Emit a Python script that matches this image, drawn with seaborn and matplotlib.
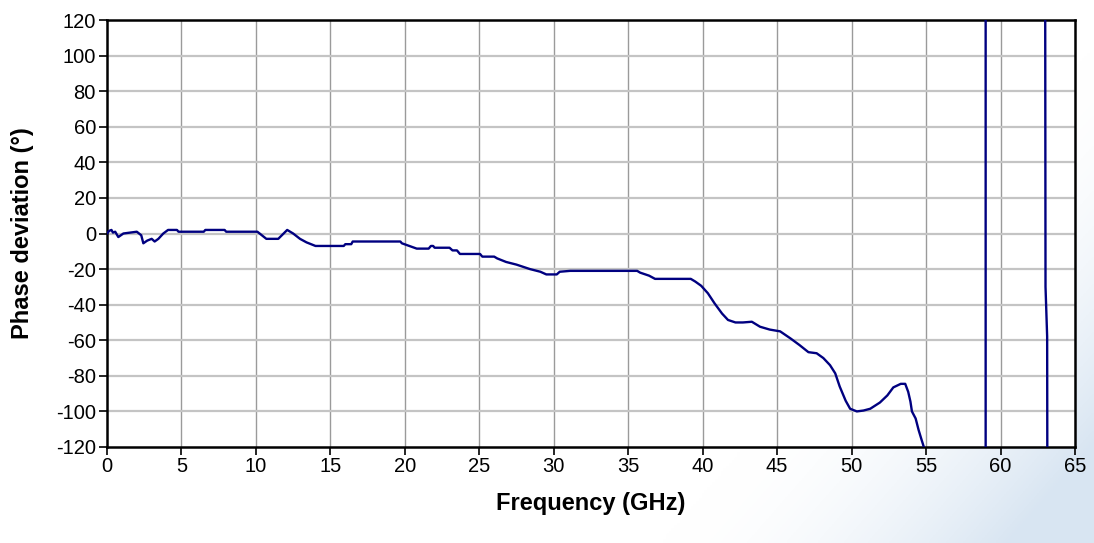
import numpy as np
import pandas as pd
import matplotlib
matplotlib.use("Agg")
import matplotlib.pyplot as plt
import seaborn as sns

# Measured phase deviation versus frequency
freq_ghz = [0, 0.15, 0.3, 0.4, 0.55, 0.76, 1.1, 2.0, 2.3, 2.44, 2.7, 3.0, 3.2, 3.45,
            3.78, 4.1, 4.7, 4.8, 6.5, 6.6, 7.9, 8.0, 10.1, 10.7, 11.5, 12.1, 12.5,
            12.96, 13.4, 14.0, 15.9, 16.0, 16.4, 16.5, 19.7, 19.8, 20.3, 20.8, 21.6,
            21.75, 21.9, 22.0, 23.0, 23.2, 23.5, 23.7, 25.05, 25.2, 26.0, 26.2, 26.8,
            27.5, 28.4, 29.1, 29.5, 30.2, 30.4, 31.1, 35.6, 35.8, 36.4, 36.8, 39.2,
            39.5, 39.9, 40.35, 40.8, 41.3, 41.7, 42.2, 42.7, 43.3, 43.85, 44.5, 45.2,
            45.9, 46.5, 47.1, 47.65, 48.1, 48.55, 48.9, 49.2, 49.6, 49.9, 50.35, 50.8,
            51.25, 51.9, 52.4, 52.8, 53.3, 53.6, 53.8, 53.95, 54.05, 54.3, 54.5, 54.7,
            54.85, 56.5, 59.0, 59.0, 61.0, 63.0, 63.02, 63.13, 63.15]
phase_deg = [0, 1.5, 2, 0.5, 1, -2, 0, 1, -1, -5.5, -4, -3, -4.5, -3,
             0, 2, 2, 1, 1, 2, 2, 1, 1, -3, -3, 2, 0,
             -3, -5, -7, -7, -6, -6, -4.5, -4.5, -5.5, -7, -8.5, -8.5,
             -7, -7, -8, -8, -9.5, -9.5, -11.5, -11.5, -13, -13, -14, -16,
             -17.5, -20, -21.5, -23, -23, -21.5, -21, -21, -22, -23.7, -25.5, -25.5,
             -27, -29.4, -33.6, -39.3, -45, -48.6, -50, -50, -49.6, -52.4, -54, -55,
             -59, -62.7, -66.7, -67.3, -70, -74, -78.6, -86, -94, -98.5, -100, -99.5,
             -98.5, -95, -91, -86.5, -84.5, -84.5, -89, -94.5, -100, -104, -110.5, -116,
             -120, -150, -180, 180, 150, 125, -30, -58, -180]

x_ticks = list(range(0, 66, 5))
y_ticks = list(range(-120, 121, 20))

df = pd.DataFrame({"Frequency (GHz)": freq_ghz, "Phase deviation (°)": phase_deg})

sns.set_theme(style="white")
plt.rcParams["font.family"] = ["Liberation Sans", "DejaVu Sans"]
plt.rcParams["text.color"] = "black"

fig = plt.figure(figsize=(10.94, 5.43), dpi=100)

# soft blue wash in the lower-right corner of the slide background
bg = fig.add_axes([0, 0, 1, 1], zorder=-10)
gx, gy = np.meshgrid(np.linspace(0, 1, 400), np.linspace(0, 1, 200))
d = np.clip(((gx - 0.78) / 0.22) * 0.7 + ((gy - 0.6) / 0.4) * 0.55, 0, 1)
d = d ** 1.8
white = np.array([1.0, 1.0, 1.0])
blue = np.array([0.85, 0.90, 0.95])
img = white[None, None, :] * (1 - d[..., None]) + blue[None, None, :] * d[..., None]
bg.imshow(img, aspect="auto", extent=[0, 1, 0, 1], origin="upper")
bg.axis("off")

ax = fig.add_axes([107 / 1094, 96 / 543, 968 / 1094, 427 / 543])
ax.set_facecolor("white")

sns.lineplot(data=df, x="Frequency (GHz)", y="Phase deviation (°)", sort=False,
             estimator=None, color="#000080", linewidth=1.7, ax=ax, zorder=3)

ax.set_xlim(0, 65)
ax.set_ylim(-120, 120)
ax.set_xticks(x_ticks)
ax.set_yticks(y_ticks)
ax.set_xticklabels([str(v) for v in x_ticks])
ax.set_yticklabels([str(v) for v in y_ticks])

for v in x_ticks[1:-1]:
    ax.axvline(v, color="#9a9a9a", linewidth=1.0, zorder=1)
for v in y_ticks[1:-1]:
    ax.axhline(v, color="#c4c4c4", linewidth=1.6, zorder=1)

for s in ax.spines.values():
    s.set_visible(True)
    s.set_color("black")
    s.set_linewidth(1.8)

ax.tick_params(axis="both", which="major", direction="out", length=6, width=1.2,
               color="black", labelsize=14.5, labelcolor="black",
               bottom=True, left=True)
ax.tick_params(axis="x", pad=1)
ax.tick_params(axis="y", pad=2)

ax.set_xlabel("Frequency (GHz)", fontsize=17, fontweight="bold", labelpad=12,
              color="black")
ax.set_ylabel("Phase deviation (°)", fontsize=17, fontweight="bold", labelpad=16,
              color="black")

fig.savefig("out.png", dpi=100)
